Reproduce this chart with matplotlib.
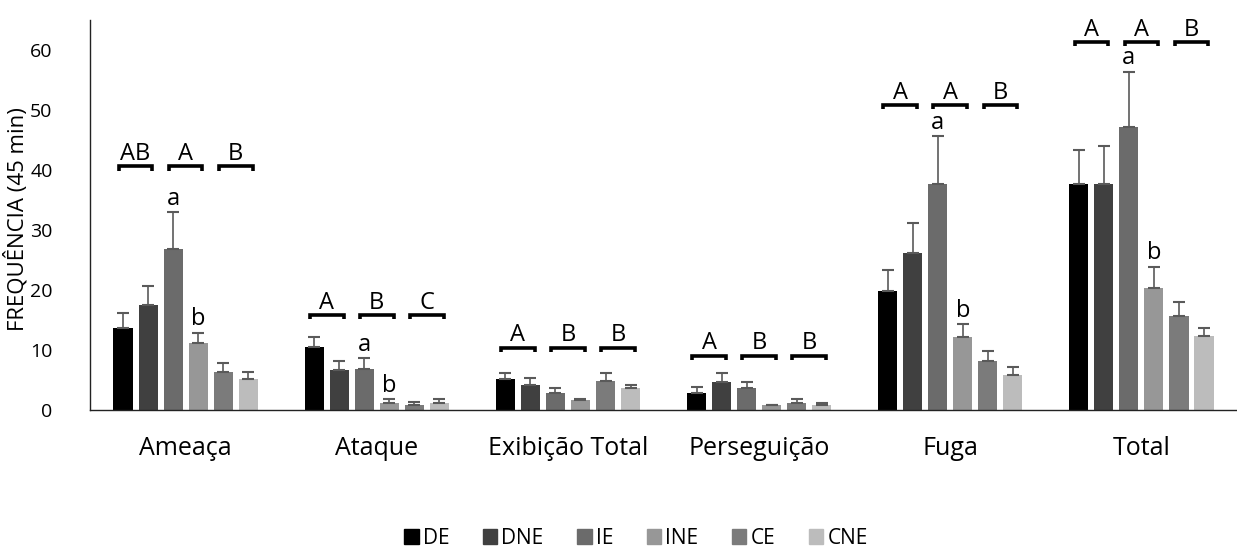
import matplotlib
matplotlib.use("Agg")
import matplotlib.pyplot as plt
import numpy as np

plt.rcParams['font.family'] = ['Open Sans', 'DejaVu Sans']

categories = ["Ameaça", "Ataque", "Exibição Total", "Perseguição", "Fuga", "Total"]
series = ["DE", "DNE", "IE", "INE", "CE", "CNE"]
colors = ["#000000", "#404040", "#6b6b6b", "#979797", "#7b7b7b", "#bcbcbc"]

de = [13.7, 10.5, 5.1, 2.8, 19.9, 37.6]
dne = [17.5, 6.7, 4.2, 4.6, 26.2, 37.6]
ie = [26.8, 6.9, 2.8, 3.6, 37.6, 47.2]
ine = [11.2, 1.2, 1.6, 0.8, 12.1, 20.4]
ce = [6.3, 0.9, 4.8, 1.2, 8.1, 15.7]
cne = [5.2, 1.2, 3.7, 0.8, 5.8, 12.3]

de_err = [2.5, 1.7, 1.1, 1.1, 3.5, 5.8]
dne_err = [3.2, 1.4, 1.2, 1.6, 4.9, 6.4]
ie_err = [6.2, 1.7, 0.8, 1.1, 8.0, 9.2]
ine_err = [1.7, 0.6, 0.2, 0.1, 2.2, 3.5]
ce_err = [1.5, 0.5, 1.4, 0.6, 1.7, 2.3]
cne_err = [1.1, 0.6, 0.5, 0.3, 1.4, 1.3]

bracket_labels = [["AB", "A", "B"], ["A", "B", "C"], ["A", "B", "B"],
                  ["A", "B", "B"], ["A", "A", "B"], ["A", "A", "B"]]
bracket_heights = [40.6, 15.8, 10.4, 9.0, 50.8, 61.3]
# small letters above IE / INE
small_letters = [("a", "b"), ("a", "b"), None, None, ("a", "b"), ("a", "b")]

values = [de, dne, ie, ine, ce, cne]
errors = [de_err, dne_err, ie_err, ine_err, ce_err, cne_err]

fig = plt.figure(figsize=(12.37, 5.49), dpi=100)
ax = fig.add_axes([0.0728, 0.2532, 0.9272, 0.7104])

x = np.arange(len(categories))
step = 0.131
width = 0.1
for i, (name, vals, errs, col) in enumerate(zip(series, values, errors, colors)):
    pos = x + (i - 2.5) * step
    ax.bar(pos, vals, width, color=col, label=name, zorder=2)
    ax.errorbar(pos, vals, yerr=[np.zeros(len(errs)), errs], fmt='none',
                ecolor="#5a5a5a", elinewidth=1.2, capsize=4, capthick=1.5, zorder=3)

# brackets
half = 0.088
for c in range(len(categories)):
    h = bracket_heights[c]
    for p in range(3):
        center = x[c] + ((2 * p + 0.5) - 2.5) * step
        ax.plot([center - half, center - half, center + half, center + half],
                [h - 0.7, h, h, h - 0.7], color="black", lw=2.6,
                solid_capstyle='butt', solid_joinstyle='miter', zorder=4)
        ax.text(center, h + 1.1, bracket_labels[c][p], ha='center', va='baseline',
                fontsize=17)
    if small_letters[c] is not None:
        for k, idx in enumerate([2, 3]):
            pos = x[c] + (idx - 2.5) * step
            top = values[idx][c] + errors[idx][c]
            ax.text(pos, top + 1.2, small_letters[c][k], ha='center', va='baseline',
                    fontsize=17)

ax.set_xlim(-0.5, 5.5)
ax.set_ylim(0, 65)
ax.set_yticks(np.arange(0, 61, 10))
ax.set_xticks(x)
ax.set_xticklabels(categories, fontsize=18)
ax.tick_params(axis='x', length=0, pad=19)
ax.tick_params(axis='y', length=0, pad=27, labelsize=14)
for s in ["top", "right"]:
    ax.spines[s].set_visible(False)
ax.spines["left"].set_linewidth(1.0)
ax.spines["bottom"].set_linewidth(1.0)
ax.spines["left"].set_color("#222222")
ax.spines["bottom"].set_color("#222222")
ax.set_ylabel("FREQUÊNCIA (45 min)", fontsize=16)
ax.yaxis.set_label_coords(-0.054, 0.49)

handles = [plt.Rectangle((0, 0), 1, 1, color=c) for c in colors]
fig.legend(handles, series, loc='center', bbox_to_anchor=(0.514, 0.02), ncol=6,
           frameon=False, fontsize=15, handlelength=0.7, handleheight=0.7,
           handletextpad=0.2, columnspacing=1.6)

fig.savefig("out.png", dpi=100)
